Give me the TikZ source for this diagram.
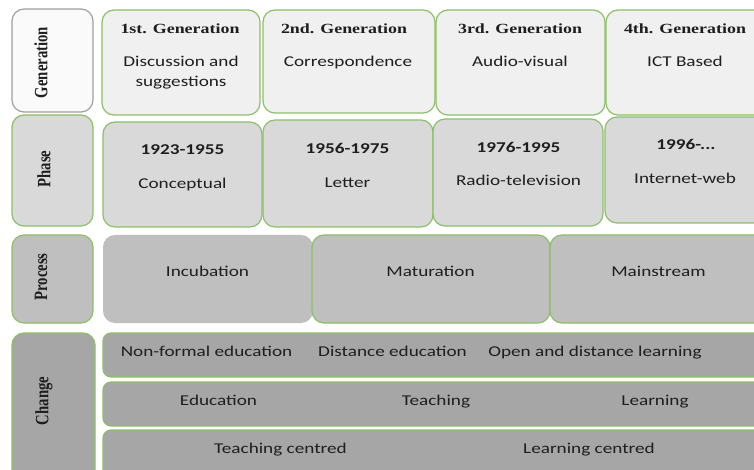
\documentclass[tikz,border=0pt]{standalone}
\usepackage{fontspec}
\usepackage{graphicx}
\newfontfamily\cf[FakeStretch=1.28]{Carlito}
\newfontfamily\tf[FakeStretch=1.28]{Liberation Serif}
\newfontfamily\tfr{Liberation Serif}
\definecolor{grn}{HTML}{8CC068}
\definecolor{lbord}{HTML}{A0A0A0}
\definecolor{f0}{HTML}{FAFAFA}
\definecolor{f1}{HTML}{F0F0F0}
\definecolor{f2}{HTML}{D9D9D9}
\definecolor{f3}{HTML}{BFBFBF}
\definecolor{f4}{HTML}{A6A6A6}
\definecolor{txt}{HTML}{1E1E1E}
\tikzset{
  cell/.style={draw=grn, line width=1.2pt, rounded corners=12pt},
  bar/.style={draw=grn, line width=1.2pt, rounded corners=8pt},
  body/.style={anchor=base, inner sep=0pt, text=txt, font=\cf\fontsize{15}{18}\selectfont},
  bbody/.style={anchor=base, inner sep=0pt, text=txt, font=\cf\bfseries\fontsize{15}{18}\selectfont},
  head/.style={anchor=base, inner sep=0pt, text=txt, font=\tf\bfseries\fontsize{14}{17}\selectfont},
  sidelab/.style={anchor=center, inner sep=0pt, rotate=90, text=txt, font=\tfr\bfseries\fontsize{14.7}{17}\selectfont}
}
\begin{document}
\begin{tikzpicture}[x=1pt,y=-1pt]
\useasboundingbox (0,0) rectangle (754,470);
\clip (0,0) rectangle (754,470);
\fill[white] (0,0) rectangle (754,470);
% row 1: generation
\draw[cell, draw=lbord, fill=f0] (12,9) rectangle (93,112);
\draw[cell, fill=f1] (102,10) rectangle (260,115);
\draw[cell, fill=f1] (263,10) rectangle (435,113);
\draw[cell, fill=f1] (436,10) rectangle (605,115);
\draw[cell, fill=f1] (606,10) rectangle (775,115);
% row 2: phase
\draw[cell, fill=f2] (12,115) rectangle (93,226);
\draw[cell, fill=f2] (103,122) rectangle (262,227);
\draw[cell, fill=f2] (263,120) rectangle (433,227);
\draw[cell, fill=f2] (433,119) rectangle (603,226);
\draw[cell, fill=f2] (605,117) rectangle (775,223);
% row 3: process
\draw[cell, fill=f3] (12,235) rectangle (93,323);
\fill[f3, rounded corners=12pt] (103,235) rectangle (313,323);
\draw[cell, fill=f3] (312,235) rectangle (550,323);
\draw[cell, fill=f3] (550,235) rectangle (775,323);
% row 4: change
\draw[cell, fill=f4] (12,333) rectangle (95,485);
\draw[bar, fill=f4] (103,333) rectangle (775,377);
\draw[bar, fill=f4] (103,382) rectangle (775,426);
\draw[bar, fill=f4] (103,430) rectangle (775,485);

% side labels
\node[sidelab] (lgen) at (41,62.5) {\scalebox{1}[1.28]{Generation}};
\node[sidelab] (lpha) at (44,169) {\scalebox{1}[1.28]{Phase}};
\node[sidelab] (lpro) at (41,277) {\scalebox{1}[1.28]{Process}};
\node[sidelab] (lcha) at (44,401) {\scalebox{1}[1.28]{Change}};

% generation texts
\node[head] (h1) at (180,34) {1st. Generation};
\node[head] (h2) at (344,34) {2nd. Generation};
\node[head] (h3) at (520,34) {3rd. Generation};
\node[head] (h4) at (685,34) {4th. Generation};
\node[body] (g1a) at (181,67) {Discussion and};
\node[body] (g1b) at (181,87) {suggestions};
\node[body] (g2) at (348,67) {Correspondence};
\node[body] (g3) at (520,67) {Audio-visual};
\node[body] (g4) at (685,67) {ICT Based};

% phase texts
\node[bbody] (y1) at (182.5,155) {1923-1955};
\node[bbody] (y2) at (347.5,154) {1956-1975};
\node[bbody] (y3) at (518.5,153) {1976-1995};
\node[bbody] (y4) at (686,150) {1996-...};
\node[body] (p1) at (182.5,189) {Conceptual};
\node[body] (p2) at (347.5,188) {Letter};
\node[body] (p3) at (518.5,186) {Radio-television};
\node[body] (p4) at (685,184) {Internet-web};

% process texts
\node[body] (q1) at (207.5,276) {Incubation};
\node[body] (q2) at (430.5,276) {Maturation};
\node[body] (q3) at (658.5,276) {Mainstream};

% change texts
\node[body] (c1) at (206.5,356) {Non-formal education};
\node[body] (c2) at (392.5,356) {Distance education};
\node[body] (c3) at (595,356) {Open and distance learning};
\node[body] (d1) at (218.5,405) {Education};
\node[body] (d2) at (436,405) {Teaching};
\node[body] (d3) at (655,405) {Learning};
\node[body] (e1) at (280.5,453) {Teaching centred};
\node[body] (e2) at (589,453) {Learning centred};
\end{tikzpicture}
\end{document}
